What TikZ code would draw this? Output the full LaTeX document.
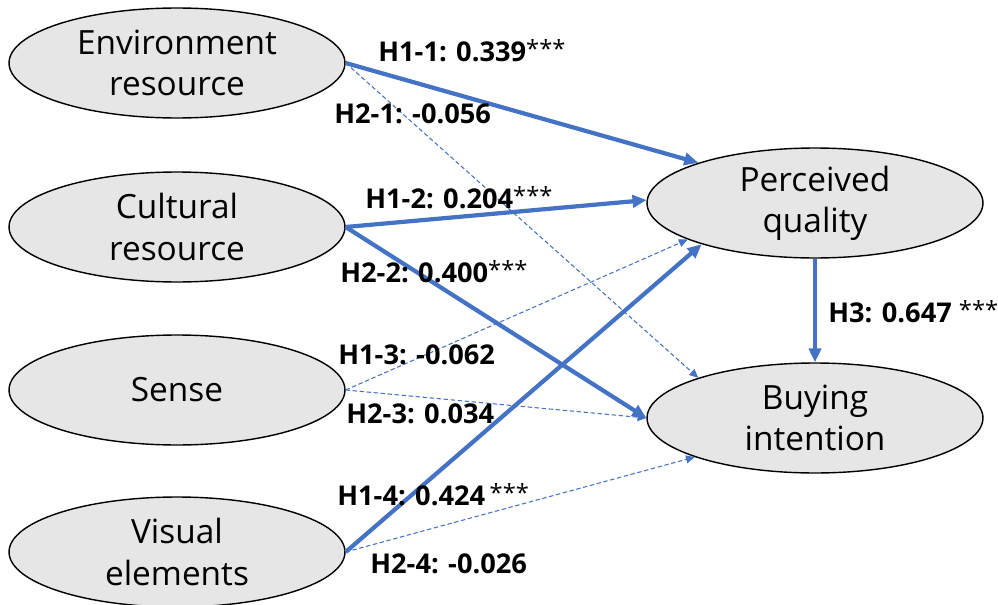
\documentclass[tikz,border=0pt]{standalone}
\usepackage{fontspec}
\setmainfont{Open Sans}
\usetikzlibrary{arrows.meta, shapes.geometric}
\definecolor{pathblue}{RGB}{68,114,196}
\definecolor{latentgray}{RGB}{231,230,230}
\newcommand{\sig}{\raisebox{0.25ex}{\mdseries\fontsize{13.5}{16}\selectfont ***}}

\begin{document}
\begin{tikzpicture}[x=0.02cm, y=-0.02cm,
    latent/.style={ellipse, draw, line width=0.8pt, fill=latentgray,
                   minimum width=6.72cm, minimum height=2.2cm, inner sep=0pt,
                   align=center, font=\fontsize{19}{23.5}\selectfont},
    strong/.style={draw=pathblue, line width=2.4pt,
                   -{Triangle[length=8pt,width=7pt]}},
    weak/.style={draw=pathblue, line width=0.6pt, dash pattern=on 2.5pt off 1.5pt,
                 -{Triangle[length=5pt,width=4.5pt]}},
    coef/.style={anchor=base west, inner sep=0pt,
                 font=\fontsize{15.5}{18}\selectfont\bfseries},
]
\useasboundingbox (0,0) rectangle (998,605);
% exogenous constructs
\node[latent] (Env) at (177,63)  {Environment\\resource};
\node[latent] (Cul) at (177,227) {Cultural\\resource};
\node[latent] (Sen) at (177,390) {Sense};
\node[latent] (Vis) at (177,552) {Visual\\elements};
% endogenous constructs
\node[latent] (PQ) at (815,203) {Perceived\\quality};
\node[latent] (BI) at (815,418) {Buying\\intention};

% paths to perceived quality (H1) and buying intention (H2)
\draw[strong] (Env.east) -- (PQ.161.8);
\draw[weak]   (Env.east) -- (BI.161.6);
\draw[strong] (Cul.east) -- (PQ.179);
\draw[strong] (Cul.east) -- (BI.180);
\draw[weak]   (Sen.east) -- (PQ.196.7);
\draw[weak]   (Sen.east) -- (BI.180);
\draw[strong] (Vis.east) -- (PQ.200);
\draw[weak]   (Vis.east) -- (BI.198);
\draw[strong] (PQ.south) -- (BI.north);

% coefficients
\node[coef] (c11) at (378,61)  {H1-1: 0.339\sig};
\node[coef] (c21) at (334,123) {H2-1: -0.056};
\node[coef] (c12) at (365,208) {H1-2: 0.204\sig};
\node[coef] (c22) at (340,282) {H2-2: 0.400\sig};
\node[coef] (c13) at (338,364) {H1-3: -0.062};
\node[coef] (c23) at (346,423) {H2-3: 0.034};
\node[coef] (c14) at (337,505) {H1-4: 0.424\,\sig};
\node[coef] (c24) at (370,573) {H2-4: -0.026};
\node[coef] (c3)  at (828,322) {H3: 0.647 \sig};
\end{tikzpicture}
\end{document}
